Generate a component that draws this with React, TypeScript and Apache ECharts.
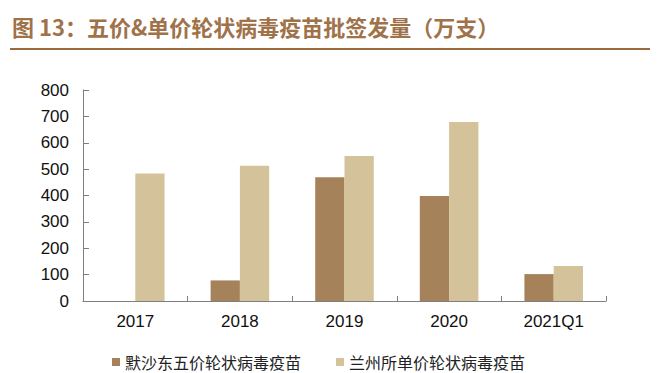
import React, { useEffect, useRef } from "react";
import * as echarts from "echarts";

const categories = ["2017", "2018", "2019", "2020", "2021Q1"];
const msdPentavalent = [null, 78, 469, 398, 102];
const lanzhouMonovalent = [483, 513, 550, 679, 133];
const seriesNames = ["默沙东五价轮状病毒疫苗", "兰州所单价轮状病毒疫苗"];
const titleText = "图 13：五价&单价轮状病毒疫苗批签发量（万支）";

export default function App() {
  const ref = useRef<HTMLDivElement>(null);
  useEffect(() => {
    if (!ref.current) return;
    const chart = echarts.init(ref.current, null, { renderer: "svg" });
    const axisFont = "Liberation Sans, Arial, sans-serif";
    chart.setOption({
      animation: false,
      backgroundColor: "#ffffff",
      graphic: [
        {
          type: "text",
          left: 12,
          top: 15,
          style: {
            text: titleText,
            fill: "#A0724A",
            font: "bold 22px 'Noto Sans CJK SC', sans-serif",
          },
        },
        {
          type: "line",
          shape: { x1: 10, y1: 49, x2: 650, y2: 49 },
          style: { stroke: "#9C6A3E", lineWidth: 2 },
        },
      ],
      legend: {
        left: 112,
        top: 354,
        padding: 0,
        itemWidth: 8,
        itemHeight: 8,
        itemGap: 35,
        icon: "rect",
        textStyle: {
          fontSize: 16,
          lineHeight: 16,
          color: "#222",
          padding: [0, 0, 0, 0],
          fontFamily: "'Noto Sans CJK SC', sans-serif",
        },
        data: seriesNames,
      },
      grid: { left: 83, top: 90, right: 65, bottom: 72, containLabel: false },
      xAxis: {
        type: "category",
        data: categories,
        axisLine: { lineStyle: { color: "#7f7f7f", width: 1 } },
        axisTick: { show: true, inside: true, length: 5, lineStyle: { color: "#7f7f7f" } },
        axisLabel: { fontSize: 17, color: "#111", margin: 12, fontFamily: axisFont },
      },
      yAxis: {
        type: "value",
        min: 0,
        max: 800,
        interval: 100,
        splitLine: { show: false },
        axisLine: { show: true, lineStyle: { color: "#7f7f7f", width: 1 } },
        axisTick: { show: true, inside: true, length: 6, lineStyle: { color: "#7f7f7f" } },
        axisLabel: { fontSize: 17, color: "#111", margin: 14, fontFamily: axisFont },
      },
      series: [
        {
          name: seriesNames[0],
          type: "bar",
          data: msdPentavalent,
          barGap: "0%",
          barCategoryGap: "44%",
          itemStyle: { color: "#A6825A" },
        },
        {
          name: seriesNames[1],
          type: "bar",
          data: lanzhouMonovalent,
          barGap: "0%",
          barCategoryGap: "44%",
          itemStyle: { color: "#D4C39A" },
        },
      ],
    });
    return () => chart.dispose();
  }, []);
  return <div ref={ref} style={{ width: 671, height: 373, position: "absolute", left: 0, top: 0 }} />;
}
